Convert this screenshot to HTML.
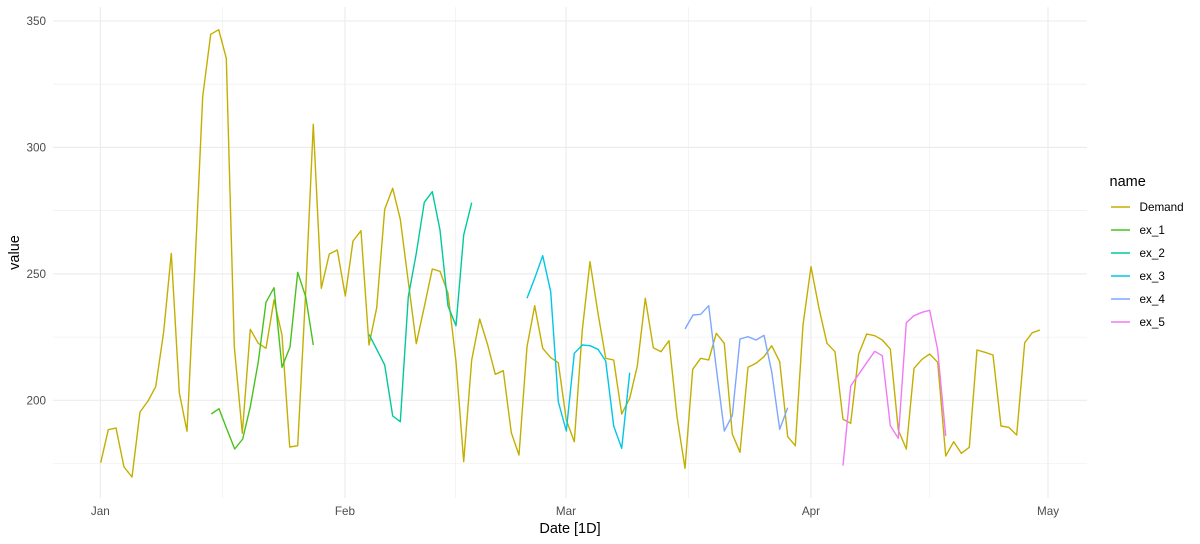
<!DOCTYPE html>
<html>
<head>
<meta charset="utf-8">
<style>
  html, body { margin:0; padding:0; background:#ffffff; }
  body { width:1200px; height:544px; overflow:hidden; }
  svg { display:block; }
  text { font-family: "Liberation Sans", "DejaVu Sans", sans-serif; }
</style>
</head>
<body>
<svg width="1200" height="544" viewBox="0 0 1200 544" xmlns="http://www.w3.org/2000/svg">
  <rect x="0" y="0" width="1200" height="544" fill="#ffffff"/>

  <!-- minor gridlines -->
  <g stroke="#EBEBEB" stroke-width="0.55" fill="none">
    <line x1="53" y1="84.2" x2="1087" y2="84.2"/>
    <line x1="53" y1="210.7" x2="1087" y2="210.7"/>
    <line x1="53" y1="337.1" x2="1087" y2="337.1"/>
    <line x1="53" y1="463.6" x2="1087" y2="463.6"/>
    <line x1="222.7" y1="7" x2="222.7" y2="498"/>
    <line x1="455.5" y1="7" x2="455.5" y2="498"/>
    <line x1="688.5" y1="7" x2="688.5" y2="498"/>
    <line x1="929.5" y1="7" x2="929.5" y2="498"/>
  </g>
  <!-- major gridlines -->
  <g stroke="#EBEBEB" stroke-width="1.1" fill="none">
    <line x1="53" y1="21" x2="1087" y2="21"/>
    <line x1="53" y1="147.4" x2="1087" y2="147.4"/>
    <line x1="53" y1="273.9" x2="1087" y2="273.9"/>
    <line x1="53" y1="400.3" x2="1087" y2="400.3"/>
    <line x1="100.3" y1="7" x2="100.3" y2="498"/>
    <line x1="345" y1="7" x2="345" y2="498"/>
    <line x1="566" y1="7" x2="566" y2="498"/>
    <line x1="811" y1="7" x2="811" y2="498"/>
    <line x1="1048" y1="7" x2="1048" y2="498"/>
  </g>

  <!-- series -->
  <g fill="none" stroke-width="1.4" stroke-linejoin="round" stroke-linecap="butt">
    <polyline stroke="#C3AF00" points="
      100.7,462.7 108.3,429.7 116,428 124,467 132,477 140,412 148,401 155.7,386.7 163.7,331.7 171.3,253.3
      179.3,392.7 187,431.3 195,265 202.7,96.7 210.7,34.3 218.7,29.7 226.3,58.3 234.3,346.7 242.3,433.3
      250.3,329.3 258.3,343.3 266,348.3 274,300 282,335 289.7,447 297.7,445.7 305.7,291.7 313.3,124.3
      321.3,288.3 329.3,254 337.3,250 345.3,296 353,241 361,230.7 369,345 376.7,307.7 384.7,209.3
      392.7,188.3 400.3,219.3 408.3,281.7 416.3,343.7 424.3,306.7 432.3,269 440,271.3 448,293.3 456,361.7
      463.7,461.7 471.7,360 479.7,319 487.7,345 495.3,374.3 503.3,370.7 511.3,432.7 519,455 527,346.7
      534.7,305.7 542.7,348.3 550.7,357.7 558.3,362.7 566.3,420 574.3,441.7 582.3,330 590,261.7 598,313.3
      605.7,358.3 613.7,360 621.7,414 629.7,398.3 637.3,366 645.3,298.3 653.3,347.7 661,351.7 669,340.7
      677,416.7 685,468.3 692.7,369.3 700.7,358.3 708.7,360 716.3,333.3 724.3,343.3 732.3,434 740,452.3
      748,367.3 756,363.3 764,356.7 771.7,345.7 779.7,361.7 787.7,436.7 795.3,445.7 803,325 811,266.7
      819,308.3 827,343.3 835,351.7 843,419.3 850.7,423.3 858.7,354 866.7,334 874.7,335.7 882.3,340
      890.3,349 898.3,430 906.3,449 914,368.3 922,359.3 929.7,354 937.7,362.3 945.7,456 953.7,441.7
      961.3,453.3 969.3,447.3 977,350 985,352.3 993,355 1001,426 1008.7,427.3 1016.7,435 1024.7,342.7
      1032.3,332.7 1040,330"/>
    <polyline stroke="#47C21D" points="
      211.3,414 219,408.7 226.7,428.8 234.7,449 242.7,439 250.3,406.7 258.3,361.7 266,302.3 274,287.7
      282,367.3 290,347 297.7,272.3 305.7,296.7 313.3,345"/>
    <polyline stroke="#00C99B" points="
      369,334.3 376.7,349.3 384.7,365 392.7,416 400.3,421.7 408.3,296.7 416.3,253.3 424.3,202.3
      432.3,191.7 440,230 448,306 456,325.7 463.7,235 471.7,202.7"/>
    <polyline stroke="#00C6E8" points="
      527,298.3 534.7,278.3 542.7,255.7 550.7,291.7 558.3,401.7 566.3,431 574.3,353.3 582.3,345
      590,345.7 598,349.3 605.7,361 613.7,426 621.7,448.3 629.7,372.7"/>
    <polyline stroke="#7DA7FF" points="
      685,329 693,315 700.7,314.3 708.7,305.7 716.3,368.3 724.3,431 732.3,415.7 740,339 748,336.7
      756,340 764,335.3 771.7,371.7 779.7,429.3 787.7,407.7"/>
    <polyline stroke="#F07AF5" points="
      843,465.7 850.7,386 858.7,374.3 866.7,362.7 874.7,351.3 882.3,355.7 890.3,425.7 898.3,438.3
      906.3,322.7 914,315.7 922,312.3 929.7,310.3 937.7,350 945.7,436"/>
  </g>

  <!-- y axis tick labels -->
  <g fill="#4D4D4D" font-size="11.7" text-anchor="end">
    <text x="46" y="25.2">350</text>
    <text x="46" y="151.6">300</text>
    <text x="46" y="278.1">250</text>
    <text x="46" y="404.5">200</text>
  </g>
  <!-- x axis tick labels -->
  <g fill="#4D4D4D" font-size="11.7" text-anchor="middle">
    <text x="100.3" y="514.8">Jan</text>
    <text x="345" y="514.8">Feb</text>
    <text x="566" y="514.8">Mar</text>
    <text x="811" y="514.8">Apr</text>
    <text x="1048" y="514.8">May</text>
  </g>

  <!-- axis titles -->
  <text x="570" y="533" font-size="14.5" fill="#000000" text-anchor="middle">Date [1D]</text>
  <text transform="translate(19,252.5) rotate(-90)" font-size="14.5" fill="#000000" text-anchor="middle">value</text>

  <!-- legend -->
  <text x="1109.5" y="186" font-size="14.5" fill="#000000">name</text>
  <g stroke-width="2" opacity="0.75">
    <line x1="1111" y1="207" x2="1130" y2="207" stroke="#C3AF00"/>
    <line x1="1111" y1="230" x2="1130" y2="230" stroke="#47C21D"/>
    <line x1="1111" y1="253" x2="1130" y2="253" stroke="#00C99B"/>
    <line x1="1111" y1="276" x2="1130" y2="276" stroke="#00C6E8"/>
    <line x1="1111" y1="299" x2="1130" y2="299" stroke="#7DA7FF"/>
    <line x1="1111" y1="322" x2="1130" y2="322" stroke="#F07AF5"/>
  </g>
  <g fill="#000000" font-size="11.7">
    <text x="1139.5" y="211.2">Demand</text>
    <text x="1139.5" y="234.2">ex_1</text>
    <text x="1139.5" y="257.2">ex_2</text>
    <text x="1139.5" y="280.2">ex_3</text>
    <text x="1139.5" y="303.2">ex_4</text>
    <text x="1139.5" y="326.2">ex_5</text>
  </g>
</svg>
</body>
</html>
